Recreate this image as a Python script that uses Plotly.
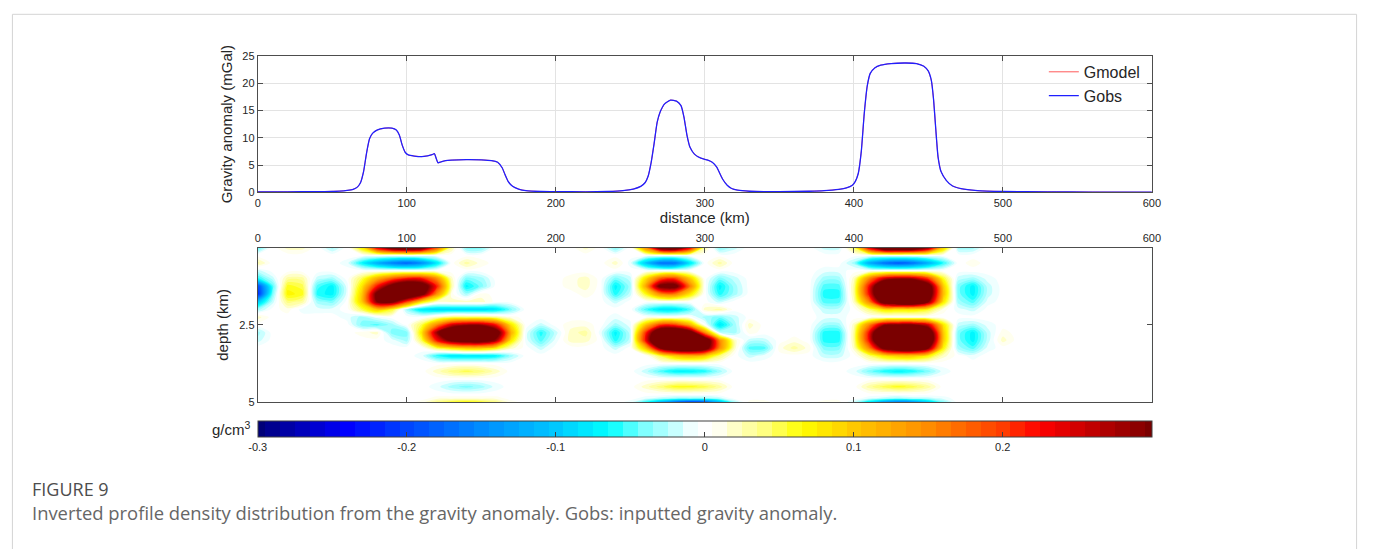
import plotly.graph_objects as go

W, H = 1375, 549

# ---------------- gravity profile (mGal) ----------------
dist_km = [0, 20, 40, 50, 55, 60, 64, 67, 69, 71, 73, 75, 77, 80, 85, 90, 93, 95, 97, 99,
           101, 105, 110, 114, 117, 118.5, 120, 121, 123, 126, 130, 140, 150, 157, 161, 164,
           166, 168, 171, 175, 180, 190, 200, 220, 235, 245, 252, 257, 260, 262, 264, 266,
           268, 270, 273, 277, 281, 284, 286, 288, 290, 293, 297, 302, 305, 308, 310, 312,
           315, 318, 322, 330, 350, 370, 380, 390, 395, 399, 401, 403, 405, 407, 409, 411,
           414, 418, 425, 435, 442, 447, 450, 452, 453.5, 455, 456.5, 458.5, 462, 466, 472,
           483, 500, 530, 560, 600]
g_obs = [0.1, 0.1, 0.12, 0.18, 0.22, 0.35, 0.55, 1.0, 1.8, 3.8, 7.2, 9.8, 10.8, 11.4, 11.75,
         11.75, 11.4, 10.5, 8.6, 7.3, 6.85, 6.65, 6.55, 6.7, 6.9, 7.1, 6.0, 5.4, 5.6, 5.8, 5.9,
         6.0, 5.95, 5.8, 5.5, 4.5, 3.2, 2.0, 1.1, 0.6, 0.3, 0.15, 0.12, 0.1, 0.15, 0.3, 0.6,
         1.1, 1.8, 3.0, 5.5, 9.0, 12.8, 14.7, 16.2, 16.9, 16.7, 15.9, 13.8, 10.5, 8.3, 7.0,
         6.3, 5.9, 5.5, 4.6, 3.5, 2.4, 1.3, 0.7, 0.4, 0.2, 0.12, 0.2, 0.3, 0.55, 0.8, 1.3,
         2.0, 3.5, 7.5, 14.5, 19.5, 21.8, 22.8, 23.3, 23.6, 23.7, 23.6, 23.1, 22.2, 20.5,
         17.0, 11.5, 6.5, 3.8, 2.2, 1.2, 0.66, 0.3, 0.15, 0.1, 0.05, 0.02]
g_model = list(g_obs)

# ---------------- inverted density section (units of 0.01 g/cm3) ----------------
grid_km = list(range(0, 601, 10))
depth_km = [0, 0.25, 0.5, 0.75, 1.0, 1.25, 1.5, 1.75, 2.0, 2.25, 2.5, 2.75, 3.0, 3.25,
            3.5, 3.75, 4.0, 4.25, 4.5, 4.75, 4.875, 5.0]
Z11 = [0] * 11
density_centi = [
    # 0.00
    [-5, 0, 2, 2, 0, -3, 0, 8, 25, 35,  38, 35, 20, 3, -4, -4, 0, 0, 0, 0,
     0, 0, 2, 0, -4, 0, 15, 35, 38, 25,  3, -4, -2, 0, 0, 0, 0, 0, -2, -2,
     5, 25, 40, 42, 40, 30, 10, -3, -3, 0] + Z11,
    # 0.25
    [0] * 61,
    # 0.50
    [3, 0, 0, 0, 0, 0, -1, -7, -12, -16,  -18, -15, -8, 0, 3, 1, 0, 0, 0, 0,
     0, 0, 0, 0, 2, -1, -10, -17, -17, -8,  0, 3, 0, 0, 0, 0, 0, 0, 0, 0,
     -3, -12, -17, -19, -17, -12, -6, 0, 1, 0] + Z11,
    # 0.75
    [-2, 0, 0, 0, 0, 0, 0, 0, 0, 0,  0, 0, 0, 0, 0, 0, 0, 0, 0, 0,
     0, 0, 0, 0, 0, 0, 0, 0, 0, 0,  0, 0, 0, 0, 0, 0, 0, 0, -1, -1,
     0, 0, 0, 0, 0, 0, 0, 0, 0, 0] + Z11,
    # 1.00
    [-6, -2, 3, 3, -2, -3, 0, 5, 12, 18,  22, 22, 15, 2, -4, -3, 0, 0, 0, 0,
     0, 1, 2, 0, -4, -2, 8, 18, 20, 10,  0, -4, -2, 0, 0, 0, 0, 0, -3, -3,
     2, 15, 25, 28, 27, 20, 6, -2, -3, -1] + Z11,
    # 1.25
    [-20, -5, 6, 5, -5, -7, -1, 8, 22, 33,  40, 36, 22, 3, -7, -4, 0, 0, 0, 0,
     0, 1, 2, 0, -7, -3, 12, 32, 33, 16,  0, -7, -3, 0, 0, 0, 0, 0, -5, -5,
     3, 22, 42, 48, 48, 35, 10, -4, -7, -2] + Z11,
    # 1.50
    [-22, -4, 7, 6, -6, -7, -1, 10, 32, 42,  42, 33, 15, 1, -3, 1, 0, 0, 0, 0,
     0, 0, 1, 0, -6, -2, 6, 15, 16, 8,  0, -6, -3, 0, 0, 0, 0, 0, -6, -6,
     3, 22, 44, 50, 50, 36, 11, -4, -7, -2] + Z11,
    # 1.75
    [-10, -2, 4, 3, -3, -4, 0, 10, 30, 32,  20, 8, 2, 2, 2, 2, 0, 0, 0, 0,
     0, 0, 0, 0, -2, 0, 0, 0, 0, 0,  0, -2, 0, 0, 0, 0, 0, 0, -5, -5,
     2, 15, 35, 40, 40, 30, 8, -3, -5, -1] + Z11,
    # 2.00
    [-3, 0, 1, -1, -1, -1, 0, 5, 10, 6,  -3, -8, -9, -9, -9, -9, -8, -4, 0, 0,
     0, 0, 0, 0, 0, 0, -5, -8, -8, -5,  2, 3, 0, 0, 0, 0, 0, 0, -2, -2,
     0, 4, 8, 8, 8, 6, 1, -1, -2, 0] + Z11,
    # 2.25
    [2, 0, 0, 0, 0, 0, -1, -3, -1, 0,  0, 0, 2, 4, 4, 4, 3, 1, 0, 0,
     0, 0, 0, 0, -1, 0, 0, 0, 0, 0,  -3, -4, -2, 0, 0, 0, 0, 0, -1, -1,
     0, 0, 0, 0, 0, 0, 0, 0, 0, 0] + Z11,
    # 2.50
    [0, 0, 0, 0, 0, 0, 0, -4, -5, -3,  0, 5, 15, 25, 28, 28, 22, 8, 0, -2,
     0, 1, 1, 0, -3, -1, 10, 20, 20, 12,  0, -8, -3, 2, 0, 0, 0, 0, -3, -3,
     2, 15, 28, 30, 30, 25, 8, -2, -3, -1] + Z11,
    # 2.75
    [-3, 0, 0, 0, 0, 0, 0, 1, 2, -4,  -4, 8, 28, 40, 45, 45, 35, 12, -1, -6,
     -2, 2, 3, -1, -7, -2, 20, 40, 42, 35,  15, -2, -3, 1, 0, 0, 0, 0, -6, -6,
     3, 22, 45, 50, 50, 38, 10, -4, -7, -2,  1] + [0] * 10,
    # 3.00
    [-2, 0, 0, 0, 0, 0, 0, 0, 0, -1,  -3, 5, 22, 32, 35, 35, 28, 8, -1, -5,
     -1, 2, 2, 0, -6, -2, 22, 45, 50, 45,  38, 15, 2, -2, -2, 0, 1, 0, -6, -6,
     3, 22, 46, 52, 52, 40, 10, -4, -7, -2,  2] + [0] * 10,
    # 3.25
    [0, 0, 0, 0, 0, 0, 0, 0, 0, 0,  0, 0, 5, 8, 10, 10, 7, 2, 0, -2,
     0, 0, 0, 0, -2, 0, 10, 30, 38, 40,  35, 15, 2, -5, -5, 1, 3, 1, -4, -4,
     2, 15, 32, 38, 38, 30, 7, -3, -5, -1] + Z11,
    # 3.50
    [0, 0, 0, 0, 0, 0, 0, 0, 0, 0,  0, -1, -6, -8, -8, -8, -7, -3, 0, 0,
     0, 0, 0, 0, 0, 0, 0, 5, 10, 12,  10, 4, 0, -2, -1, 0, 0, 0, -2, -2,
     0, 4, 8, 10, 10, 7, 2, 0, -1, 0] + Z11,
    # 3.75
    [0] * 61,
    # 4.00
    [0, 0, 0, 0, 0, 0, 0, 0, 0, 0,  0, 0, 2, 4, 5, 4, 2, 0, 0, 0,
     0, 0, 0, 0, 0, 0, -2, -5, -7, -7,  -6, -3, 0, 0, 0, 0, 0, 0, 0, 0,
     -1, -4, -6, -7, -6, -4, -1, 0, 0, 0] + Z11,
    # 4.25
    [0] * 61,
    # 4.50
    [0, 0, 0, 0, 0, 0, 0, 0, 0, 0,  0, 0, -1, -3, -4, -3, -1, 0, 0, 0,
     0, 0, 0, 0, 0, 0, 2, 4, 6, 6,  5, 3, 0, 0, 0, 0, 0, 0, 0, 0,
     0, 3, 5, 6, 5, 3, 0, 0, 0, 0] + Z11,
    # 4.75
    [0] * 61,
    # 4.875
    [0, 0, 0, 0, 0, 0, 0, 0, 0, 0,  0, 0, 1, 1, 1, 1, 1, 0, 0, 0,
     0, 0, 0, 0, 0, 0, -1, -2, -3, -3,  -3, -2, 0, 0, 0, 0, 0, 0, 0, 0,
     0, -1, -2, -3, -2, -2, -1, 0, 0, 0] + Z11,
    # 5.00
    [0, 0, 0, 0, 0, 0, 0, 0, 0, 0,  0, 1, 4, 6, 7, 6, 4, 1, 0, 0,
     0, 0, 0, 0, 0, -1, -6, -12, -18, -22,  -20, -12, -3, 1, 1, 0, 0, 0, 1, 1,
     -2, -8, -14, -17, -15, -10, -4, 0, 0, 0] + Z11,
]
density = [[v / 100.0 for v in row] for row in density_centi]

cbar_ticks = [-0.3, -0.2, -0.1, 0, 0.1, 0.2]
cbar_ticktext = ["-0.3", "-0.2", "-0.1", "0", "0.1", "0.2"]

# density colour map anchored on g/cm3 values between -0.3 and 0.3
cmap_anchor = [
    (-0.30, "#000078"), (-0.24, "#0000ff"), (-0.20, "#0046ff"), (-0.15, "#008cff"),
    (-0.10, "#00c8ff"), (-0.065, "#00ffff"), (-0.04, "#80ffff"), (-0.02, "#c8ffff"),
    (-0.006, "#ffffff"), (0.006, "#ffffff"), (0.02, "#ffffc8"), (0.04, "#ffff80"),
    (0.065, "#ffff00"), (0.10, "#ffc800"), (0.15, "#ff8c00"), (0.20, "#ff3c00"),
    (0.225, "#ff0000"), (0.26, "#c00000"), (0.30, "#7a0000"),
]
colorscale = [[(v + 0.3) / 0.6, c] for v, c in cmap_anchor]

# ---------------- layout geometry ----------------
def px_x(p):
    return p / W

def px_y(p):
    return 1 - p / H

XDOM = [px_x(257), px_x(1159)]
Y1DOM = [px_y(190.5), px_y(51)]
Y2DOM = [px_y(405), px_y(247)]

AX_FONT = "Liberation Sans, Arial, sans-serif"
AX_COL = "#4d4d4d"
TXT_COL = "#262626"
CAP_FONT = "Open Sans, sans-serif"

fig = go.Figure()

fig.add_trace(go.Scatter(x=dist_km, y=g_model, name="Gmodel", mode="lines",
                         line=dict(color="#ff3030", width=0.8, shape="spline", smoothing=0.5),
                         xaxis="x", yaxis="y"))
fig.add_trace(go.Scatter(x=dist_km, y=g_obs, name="Gobs", mode="lines",
                         line=dict(color="#1f1fff", width=1.3, shape="spline", smoothing=0.5),
                         xaxis="x", yaxis="y"))

fig.add_trace(go.Contour(
    x=grid_km, y=depth_km, z=density, xaxis="x2", yaxis="y2",
    colorscale=colorscale, zmin=-0.3, zmax=0.3,
    contours=dict(start=-0.295, end=0.295, size=0.01, coloring="fill", showlines=False),
    line=dict(width=0, smoothing=0.9),
    showlegend=False, hoverinfo="skip",
    colorbar=dict(
        orientation="h", x=XDOM[0], xanchor="left", y=px_y(424), yanchor="top",
        len=XDOM[1] - XDOM[0], lenmode="fraction", thickness=16,
        xpad=0, ypad=0, outlinecolor="#404040", outlinewidth=1,
        tickvals=cbar_ticks, ticktext=cbar_ticktext, ticks="inside", ticklen=5,
        tickcolor="#404040", tickfont=dict(family=AX_FONT, size=11, color=TXT_COL),
    ),
))

common_axis = dict(showline=True, linecolor=AX_COL, linewidth=1, mirror="ticks",
                   ticks="inside", ticklen=5, tickcolor=AX_COL, zeroline=False,
                   tickfont=dict(family=AX_FONT, size=11, color=TXT_COL))

fig.update_layout(
    width=W, height=H, margin=dict(l=0, r=0, t=0, b=0),
    paper_bgcolor="white", plot_bgcolor="white",
    font=dict(family=AX_FONT, color=TXT_COL),
    xaxis=dict(domain=XDOM, range=[0, 600], tickvals=list(range(0, 601, 100)), anchor="y",
               showgrid=True, gridcolor="#e3e3e3", gridwidth=1,
               title=dict(text="distance (km)", font=dict(family=AX_FONT, size=15, color=TXT_COL),
                          standoff=4),
               **common_axis),
    yaxis=dict(domain=Y1DOM, range=[0, 25], tickvals=list(range(0, 26, 5)), anchor="x",
               showgrid=True, gridcolor="#e3e3e3", gridwidth=1,
               title=dict(text="Gravity anomaly (mGal)",
                          font=dict(family=AX_FONT, size=15, color=TXT_COL), standoff=6),
               **common_axis),
    xaxis2=dict(domain=XDOM, range=[0, 600], tickvals=list(range(0, 601, 100)), anchor="y2",
                side="top", showgrid=False, **common_axis),
    yaxis2=dict(domain=Y2DOM, range=[5, 0], tickvals=[2.5, 5], ticktext=["2.5", "5"],
                anchor="x2", showgrid=False,
                title=dict(text="depth (km)", font=dict(family=AX_FONT, size=15, color=TXT_COL),
                           standoff=6),
                **common_axis),
    legend=dict(x=px_x(1050), y=px_y(50), xanchor="left", yanchor="top",
                bgcolor="rgba(0,0,0,0)", font=dict(family=AX_FONT, size=16, color=TXT_COL),
                itemwidth=30, tracegroupgap=0),
    shapes=[dict(type="rect", xref="paper", yref="paper", x0=px_x(9.5), x1=px_x(1365.5),
                 y0=-0.05, y1=px_y(8.5), line=dict(color="#d4d4d4", width=1),
                 fillcolor="rgba(0,0,0,0)", layer="below")],
    annotations=[
        dict(text="g/cm<sup>3</sup>", x=px_x(252), y=px_y(432), xref="paper", yref="paper",
             xanchor="right", yanchor="middle", showarrow=False,
             font=dict(family=AX_FONT, size=15, color=TXT_COL)),
        dict(text="FIGURE 9", x=px_x(27), y=px_y(494), xref="paper", yref="paper",
             xanchor="left", yanchor="middle", showarrow=False,
             font=dict(family=CAP_FONT, size=18, color="#4d4d4d")),
        dict(text="Inverted profile density distribution from the gravity anomaly. "
                  "Gobs: inputted gravity anomaly.",
             x=px_x(27), y=px_y(518), xref="paper", yref="paper",
             xanchor="left", yanchor="middle", showarrow=False,
             font=dict(family=CAP_FONT, size=18.4, color="#666666")),
    ],
)

fig.write_html("out.html")
